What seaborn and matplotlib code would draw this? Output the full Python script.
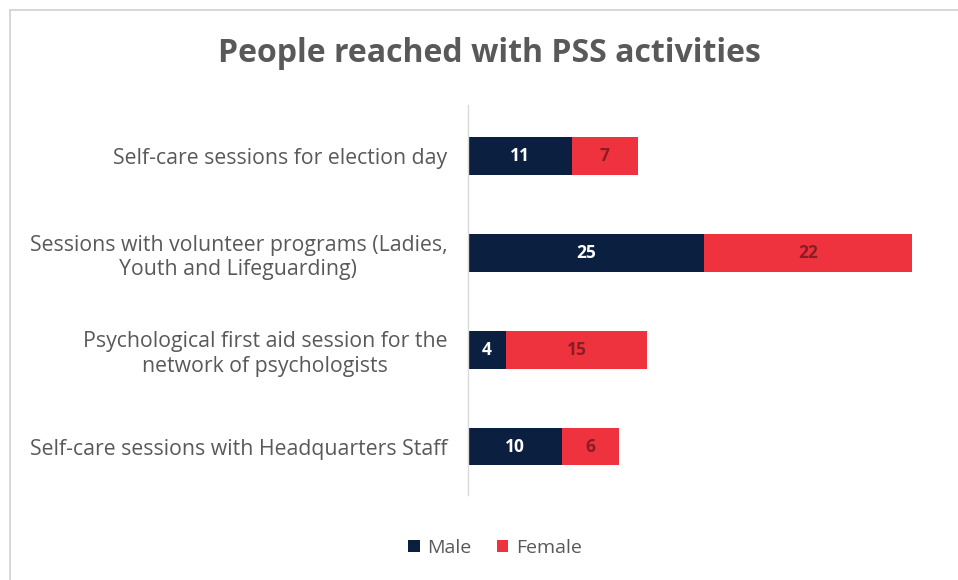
import matplotlib
matplotlib.use("Agg")
import matplotlib.pyplot as plt
import seaborn as sns
import pandas as pd
from matplotlib.patches import Patch
from matplotlib.lines import Line2D

categories = [
    "Self-care sessions for election day",
    "Sessions with volunteer programs (Ladies,\nYouth and Lifeguarding)",
    "Psychological first aid session for the\nnetwork of psychologists",
    "Self-care sessions with Headquarters Staff",
]
male = [11, 25, 4, 10]
female = [7, 22, 15, 6]
series = ["Male", "Female"]

male_color = "#0b1f41"
female_color = "#ee333e"
text_grey = "#595959"

sns.set_theme(style="white")
plt.rcParams["font.family"] = ["Open Sans", "DejaVu Sans"]

df = pd.DataFrame({"category": categories, "Male": male, "Female": female})
df["Total"] = df["Male"] + df["Female"]

W, H = 958, 580
fig = plt.figure(figsize=(W / 100, H / 100), dpi=100)
ax = fig.add_axes([468 / W, 1 - 495 / H, (940 - 468) / W, 390 / H])

sns.barplot(data=df, y="category", x="Total", color=female_color, orient="h",
            width=0.39, ax=ax, saturation=1, linewidth=0)
sns.barplot(data=df, y="category", x="Male", color=male_color, orient="h",
            width=0.39, ax=ax, saturation=1, linewidth=0)

ax.set_xlim(0, 50)
ax.set_ylim(3.5, -0.53)
ax.set_xlabel("")
ax.set_ylabel("")
ax.set_xticks([])
for s in ["top", "right", "bottom"]:
    ax.spines[s].set_visible(False)
ax.spines["left"].set_color("#d9d9d9")
ax.spines["left"].set_linewidth(1.0)
ax.tick_params(axis="y", length=0, pad=15)
for lbl in ax.get_yticklabels():
    lbl.set_fontsize(15.3)
    lbl.set_color(text_grey)
    lbl.set_multialignment("center")
    lbl.set_linespacing(1.2)

for i, (m, f) in enumerate(zip(male, female)):
    ax.text(m / 2, i, str(m), ha="center", va="center", color="white",
            fontsize=12.5, fontweight="bold")
    ax.text(m + f / 2, i, str(f), ha="center", va="center", color="#8a1c24",
            fontsize=12.5, fontweight="bold")

fig.text(489 / W, 1 - 53 / H, "People reached with PSS activities", ha="center",
         va="center", fontsize=23, fontweight="bold", color=text_grey)

handles = [Patch(facecolor=male_color, edgecolor="none"),
           Patch(facecolor=female_color, edgecolor="none")]
fig.legend(handles, series, loc="center", bbox_to_anchor=(495 / W, 1 - 548 / H),
           ncol=2, frameon=False, fontsize=14, handlelength=0.6, handleheight=0.6,
           handletextpad=0.4, columnspacing=1.3, labelcolor=text_grey)

# outer chart border
fig.add_artist(Line2D([9.5 / W, 9.5 / W], [0, 1 - 9.5 / H], color="#d0d0d0", lw=1.2,
                      transform=fig.transFigure))
fig.add_artist(Line2D([9.5 / W, 1], [1 - 9.5 / H, 1 - 9.5 / H], color="#d0d0d0", lw=1.2,
                      transform=fig.transFigure))

fig.savefig("out.png", dpi=100, facecolor="white")
